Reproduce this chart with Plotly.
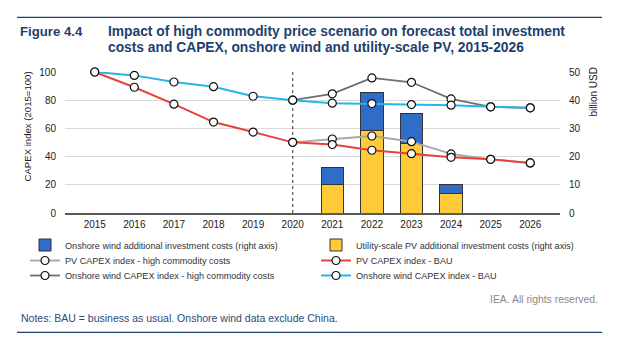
import plotly.graph_objects as go

# ---------------- data ----------------
years = ["2015", "2016", "2017", "2018", "2019", "2020",
         "2021", "2022", "2023", "2024", "2025", "2026"]
wind_bau = [100, 97.6, 92.9, 89.6, 82.8, 80.0, 77.9, 77.6, 76.9, 76.5, 75.3, 74.6]
pv_bau = [100, 89.2, 77.2, 64.5, 57.4, 50.1, 48.5, 44.5, 42.1, 39.5, 38.1, 35.5]
wind_high = [None, None, None, None, None, 80.0, 84.5, 95.8, 92.7, 80.9, 75.3, 74.6]
pv_high = [None, None, None, None, None, 50.1, 52.5, 54.6, 50.6, 41.9, 38.1, 35.5]
pv_add = [None, None, None, None, None, None, 10.2, 29.2, 24.7, 6.8, None, None]
wind_add = [None, None, None, None, None, None, 5.9, 13.5, 10.6, 3.2, None, None]
marker_year = "2020"
left_ticks = [0, 20, 40, 60, 80, 100]
right_ticks = [0, 10, 20, 30, 40, 50]

# ---------------- layout geometry ----------------
W, H = 634, 347
ML, MR, MT, MB = 65, 74, 72, 134
PW, PH = W - ML - MR, H - MT - MB


def px(x):
    return (x - ML) / PW


def py(y):
    return (H - MB - y) / PH


FONT = "Liberation Sans, Arial, sans-serif"
NAVY = "#1f3f6e"

C_WIND_BAR = "#2f6dc8"
C_PV_BAR = "#ffca38"
C_PV_HIGH = "#a6a6a6"
C_WIND_HIGH = "#6e6e6e"
C_PV_BAU = "#e8413c"
C_WIND_BAU = "#22b6ea"

mk = dict(symbol="circle", size=8, color="white", line=dict(color="#111111", width=1.2))

fig = go.Figure()

fig.add_trace(go.Bar(
    x=years, y=pv_add, name="Utility-scale PV additional investment costs (right axis)",
    marker=dict(color=C_PV_BAR, line=dict(color="#333333", width=1)),
    width=0.57, legend="legend2", yaxis="y"))
fig.add_trace(go.Bar(
    x=years, y=wind_add, name="Onshore wind additional investment costs (right axis)",
    marker=dict(color=C_WIND_BAR, line=dict(color="#333333", width=1)),
    width=0.57, legend="legend", yaxis="y"))

# vertical dashed marker at 2020
fig.add_trace(go.Scatter(
    x=[marker_year, marker_year], y=[left_ticks[0], left_ticks[-1]], mode="lines",
    line=dict(color="#555555", width=1.2, dash="3px,3px"), showlegend=False,
    hoverinfo="skip", yaxis="y2"))

fig.add_trace(go.Scatter(
    x=years, y=pv_high, name="PV CAPEX index - high commodity costs", mode="lines+markers",
    line=dict(color=C_PV_HIGH, width=1.8), marker=mk, legend="legend3", yaxis="y2",
    cliponaxis=False))
fig.add_trace(go.Scatter(
    x=years, y=pv_bau, name="PV CAPEX index - BAU", mode="lines+markers",
    line=dict(color=C_PV_BAU, width=2), marker=mk, legend="legend4", yaxis="y2",
    cliponaxis=False))
fig.add_trace(go.Scatter(
    x=years, y=wind_high, name="Onshore wind CAPEX index - high commodity costs", mode="lines+markers",
    line=dict(color=C_WIND_HIGH, width=1.8), marker=mk, legend="legend5", yaxis="y2",
    cliponaxis=False))
fig.add_trace(go.Scatter(
    x=years, y=wind_bau, name="Onshore wind CAPEX index - BAU", mode="lines+markers",
    line=dict(color=C_WIND_BAU, width=2), marker=mk, legend="legend6", yaxis="y2",
    cliponaxis=False))

tickfont = dict(family=FONT, size=10, color="#222222")
legfont = dict(family=FONT, size=9.1, color="#333333")


def leg(xtext, ycenter):
    return dict(orientation="h", x=px(xtext - 40), xanchor="left", y=py(ycenter), yanchor="middle",
                bgcolor="rgba(0,0,0,0)", font=legfont, itemwidth=30, borderwidth=0)


fig.update_layout(
    width=W, height=H,
    margin=dict(l=ML, r=MR, t=MT, b=MB, pad=0),
    paper_bgcolor="white", plot_bgcolor="white",
    barmode="stack",
    showlegend=True,
    legend=leg(65, 245), legend2=leg(356, 245),
    legend3=leg(65, 260.5), legend4=leg(356, 260.5),
    legend5=leg(65, 275.5), legend6=leg(356, 275.5),
    xaxis=dict(type="category", showgrid=False, showline=True, linecolor="#595959", linewidth=2,
               ticks="outside", ticklen=1, tickcolor="rgba(0,0,0,0)", tickfont=tickfont,
               zeroline=False),
    yaxis=dict(side="right", range=[0, 50], tickvals=right_ticks, showgrid=True,
               gridcolor="#d9d9d9", gridwidth=1, zeroline=False, showline=False,
               ticks="outside", ticklen=6, tickcolor="rgba(0,0,0,0)", tickfont=tickfont),
    yaxis2=dict(side="left", overlaying="y", range=[0, 100], tickvals=left_ticks, showgrid=False,
                zeroline=False, showline=False,
                ticks="outside", ticklen=6, tickcolor="rgba(0,0,0,0)", tickfont=tickfont),
    font=dict(family=FONT),
)

shapes = []
for yy in (17.3, 332.3):
    shapes.append(dict(type="line", xref="paper", yref="paper", x0=px(17), x1=px(602),
                       y0=py(yy), y1=py(yy), line=dict(color=NAVY, width=1.3)))
fig.update_layout(shapes=shapes)

ann = [
    dict(text="<b>Figure 4.4</b>", x=px(17.5), y=py(31.7), xanchor="left", yanchor="middle",
         font=dict(family=FONT, size=13.2, color=NAVY)),
    dict(text="<b>Impact of high commodity price scenario on forecast total investment</b>",
         x=px(105.5), y=py(31.7), xanchor="left", yanchor="middle", align="left",
         font=dict(family=FONT, size=13.8, color=NAVY)),
    dict(text="<b>costs and CAPEX, onshore wind and utility-scale PV, 2015-2026</b>",
         x=px(105.5), y=py(47.2), xanchor="left", yanchor="middle", align="left",
         font=dict(family=FONT, size=13.8, color=NAVY)),
    dict(text="CAPEX index (2015=100)", x=px(27), y=py(126.5), textangle=-90,
         xanchor="center", yanchor="middle", font=dict(family=FONT, size=9.6, color="#222222")),
    dict(text="billion USD", x=px(593), y=py(92.5), textangle=-90,
         xanchor="center", yanchor="middle", font=dict(family=FONT, size=10, color="#222222")),
    dict(text="IEA. All rights reserved.", x=px(599.5), y=py(299), xanchor="right", yanchor="middle",
         font=dict(family=FONT, size=10.4, color="#8a8a8a")),
    dict(text="Notes: BAU = business as usual. Onshore wind data exclude China.", x=px(18.5), y=py(318),
         xanchor="left", yanchor="middle", font=dict(family=FONT, size=10.5, color="#2a4a7a")),
]
for a in ann:
    a.update(xref="paper", yref="paper", showarrow=False)
fig.update_layout(annotations=ann)

fig.write_html("out.html")
